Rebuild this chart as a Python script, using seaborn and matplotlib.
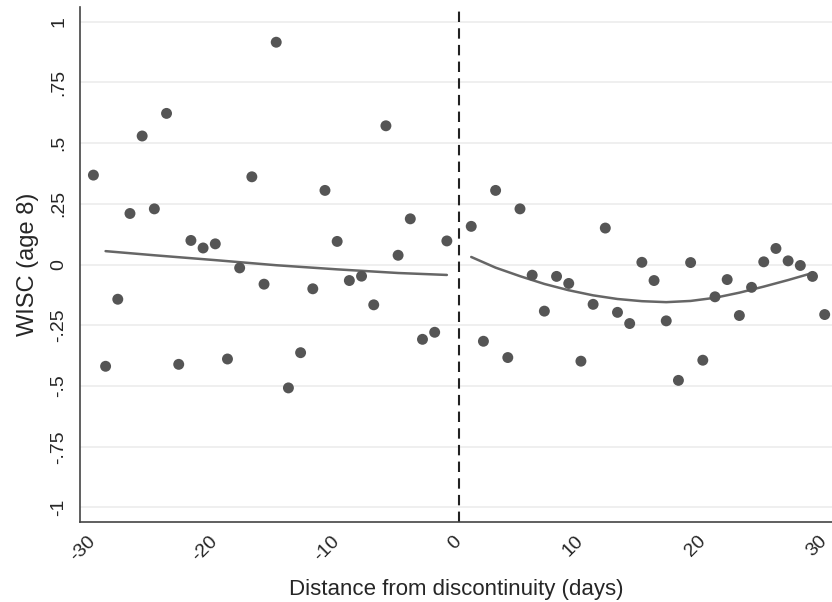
import numpy as np
import pandas as pd
import matplotlib
matplotlib.use("Agg")
import matplotlib.pyplot as plt
import seaborn as sb

# binned means
left_days = list(range(-30, 0))
left_wisc = [0.368, -0.419, -0.143, 0.210, 0.529, 0.229, 0.622, -0.411, 0.099, 0.068,
             0.085, -0.389, -0.014, 0.361, -0.081, 0.915, -0.508, -0.363, -0.100, 0.305,
             0.095, -0.066, -0.048, -0.166, 0.571, 0.038, 0.188, -0.308, -0.279, 0.097]
right_days = list(range(1, 31))
right_wisc = [0.157, -0.316, 0.305, -0.383, 0.229, -0.044, -0.192, -0.049, -0.078, -0.398,
              -0.164, 0.150, -0.197, -0.243, 0.009, -0.066, -0.232, -0.477, 0.008, -0.394,
              -0.133, -0.062, -0.210, -0.094, 0.011, 0.066, 0.015, -0.004, -0.049, -0.206]

# fitted curves on each side
left_fit_days = [-29, -25, -20, -15, -10, -5, -1]
left_fit = [0.055, 0.038, 0.018, -0.003, -0.020, -0.035, -0.043]
right_fit_days = [1, 3, 5, 7, 9, 11, 13, 15, 17, 19, 21, 23, 25, 27, 29]
right_fit = [0.031, -0.013, -0.048, -0.080, -0.106, -0.127, -0.142, -0.151, -0.155, -0.150,
             -0.137, -0.116, -0.091, -0.064, -0.035]

yticks = [1, 0.75, 0.5, 0.25, 0, -0.25, -0.5, -0.75, -1]
ytick_labels = ["1", ".75", ".5", ".25", "0", "-.25", "-.5", "-.75", "-1"]
xticks = [-30, -20, -10, 0, 10, 20, 30]

df = pd.DataFrame({"day": left_days + right_days, "wisc": left_wisc + right_wisc})

sb.set_style("white")
plt.rcParams["font.family"] = ["Liberation Sans", "DejaVu Sans"]

fig = plt.figure(figsize=(8.32, 6.02), dpi=100)
ax = fig.add_axes([80 / 832, 80 / 602, 752 / 832, 515 / 602])

for y in yticks:
    ax.axhline(y, color="#eeeeee", lw=1.3, zorder=0)

sb.scatterplot(data=df, x="day", y="wisc", color="#555555", s=62, edgecolor="none", ax=ax, zorder=3)

sb.lineplot(x=left_fit_days, y=left_fit, color="#666666", lw=1.8, ax=ax, zorder=2)
sb.lineplot(x=right_fit_days, y=right_fit, color="#666666", lw=1.8, ax=ax, zorder=2)

ax.axvline(0, color="#222222", lw=1.5, ls=(0, (5, 3)), zorder=1)

ax.set_xlim(-31.1, 30.6)
ax.set_ylim(-1.06, 1.06)
ax.set_yticks(yticks)
ax.set_yticklabels(ytick_labels, rotation=90, va="center", fontsize=14)
ax.set_xticks(xticks)
ax.set_xticklabels([str(t) for t in xticks], rotation=45, ha="right", va="center",
                   rotation_mode="anchor", fontsize=14)
ax.tick_params(length=5, width=1, color="#444444", pad=4)
ax.tick_params(axis="x", pad=7)
ax.set_xlabel("Distance from discontinuity (days)", fontsize=16, labelpad=10)
ax.set_ylabel("WISC (age 8)", fontsize=17, labelpad=8)

for s in ["top", "right"]:
    ax.spines[s].set_visible(False)
for s in ["left", "bottom"]:
    ax.spines[s].set_color("#444444")
    ax.spines[s].set_linewidth(1.2)

fig.savefig("out.png", dpi=100)
